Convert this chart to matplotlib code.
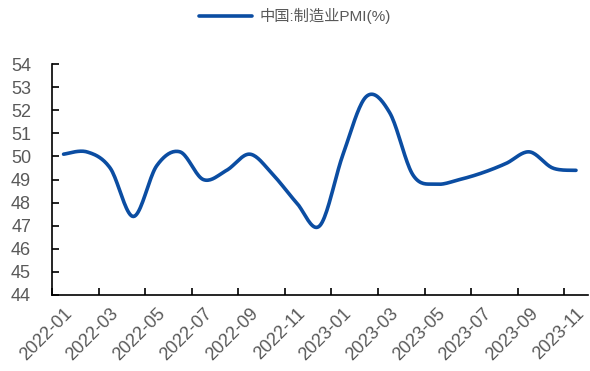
import numpy as np
import matplotlib
matplotlib.use("Agg")
import matplotlib.pyplot as plt

plt.rcParams['font.family'] = ['Liberation Sans', 'Noto Sans CJK SC', 'DejaVu Sans']

months = ["2022-01", "2022-02", "2022-03", "2022-04", "2022-05", "2022-06",
          "2022-07", "2022-08", "2022-09", "2022-10", "2022-11", "2022-12",
          "2023-01", "2023-02", "2023-03", "2023-04", "2023-05", "2023-06",
          "2023-07", "2023-08", "2023-09", "2023-10", "2023-11"]
pmi = [50.1, 50.2, 49.5, 47.4, 49.6, 50.2, 49.0, 49.4, 50.1, 49.2, 48.0, 47.0,
       50.1, 52.6, 51.9, 49.2, 48.8, 49.0, 49.3, 49.7, 50.2, 49.5, 49.4]
series_name = "中国:制造业PMI(%)"


def smooth(x, y, n=20):
    x = np.asarray(x, float)
    y = np.asarray(y, float)
    px = np.concatenate([[x[0]], x, [x[-1]]])
    py = np.concatenate([[y[0]], y, [y[-1]]])
    xs, ys = [], []
    t = np.linspace(0, 1, n, endpoint=False)
    for i in range(1, len(px) - 2):
        p0, p1, p2, p3 = (px[i-1], py[i-1]), (px[i], py[i]), (px[i+1], py[i+1]), (px[i+2], py[i+2])
        c1 = (p1[0] + (p2[0] - p0[0]) / 6, p1[1] + (p2[1] - p0[1]) / 6)
        c2 = (p2[0] - (p3[0] - p1[0]) / 6, p2[1] - (p3[1] - p1[1]) / 6)
        bx = (1-t)**3*p1[0] + 3*(1-t)**2*t*c1[0] + 3*(1-t)*t**2*c2[0] + t**3*p2[0]
        by = (1-t)**3*p1[1] + 3*(1-t)**2*t*c1[1] + 3*(1-t)*t**2*c2[1] + t**3*p2[1]
        xs.extend(bx); ys.extend(by)
    xs.append(x[-1]); ys.append(y[-1])
    return np.array(xs), np.array(ys)


fig = plt.figure(figsize=(5.9, 3.71), dpi=100)
ax = fig.add_axes([0.088, 0.205, 0.908, 0.622])

x = np.arange(len(months))
sx, sy = smooth(x, pmi)
line, = ax.plot(sx, sy, color='#0B4DA2', lw=2.6, solid_capstyle='round', label=series_name)

ax.set_xlim(-0.5, len(months) - 0.5)
ax.set_ylim(44, 54)
ax.set_yticks(np.arange(44, 55, 1))
ax.set_xticks(np.arange(-0.5, len(months) - 0.5, 2))
ax.set_xticklabels([])
ax.set_xticks(x[::2], minor=True)
ax.set_xticklabels(months[::2], minor=True, rotation=45, ha='right', rotation_mode='anchor')
ax.tick_params(axis='x', which='minor', length=0, pad=7, labelsize=13, labelcolor='#595959')
ax.tick_params(axis='x', which='major', direction='in', length=5, width=1.2)
ax.tick_params(axis='y', direction='in', length=5, width=1.2, labelsize=13, labelcolor='#595959', pad=15)

for s in ('top', 'right'):
    ax.spines[s].set_visible(False)
for s in ('left', 'bottom'):
    ax.spines[s].set_linewidth(1.2)
    ax.spines[s].set_color('black')

fig.legend(handles=[line], loc='upper center', bbox_to_anchor=(0.5, 1.015), frameon=False,
           fontsize=11, labelcolor='#595959', handlelength=3.5, handletextpad=0.5)

fig.savefig('out.png', dpi=100)
